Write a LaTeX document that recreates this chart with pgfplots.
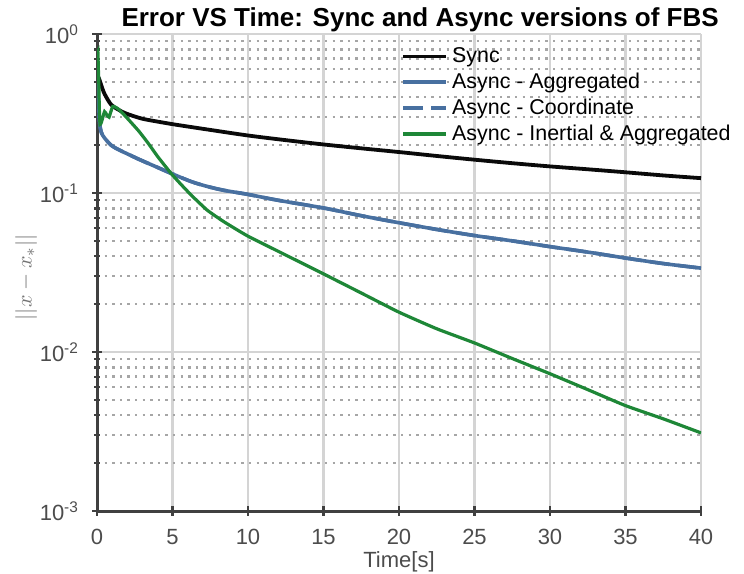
\documentclass[border=0pt]{standalone}
\usepackage{fontspec}
\setmainfont{Liberation Sans}
\usepackage{pgfplots}
\pgfplotsset{compat=1.18}

\definecolor{syncblack}{RGB}{10,10,10}
\definecolor{asyncblue}{RGB}{72,112,160}
\definecolor{inertgreen}{RGB}{30,135,55}
\definecolor{spine}{RGB}{64,64,64}

\begin{document}
\begin{tikzpicture}
\useasboundingbox (-48.5pt,-31pt) rectangle (323.5pt,255.5pt);
\begin{axis}[
    scale only axis,
    width=302pt, height=238.5pt,
    xmin=0, xmax=40,
    ymin=1e-3, ymax=1,
    ymode=log,
    xtick={0,5,...,40},
    ytick={0.001,0.01,0.1,1},
    yticklabels={10\textsuperscript{-3},10\textsuperscript{-2},10\textsuperscript{-1},10\textsuperscript{0}},
    /pgf/number format/assume math mode=true,
    ticklabel style={font=\fontsize{11}{13}\selectfont, text=black!70},
    xticklabel style={yshift=-3pt},
    yticklabel style={xshift=-3pt},
    axis x line*=bottom, axis y line*=left,
    axis line style={spine, line width=1.5pt, -},
    tick style={spine, line width=1.1pt},
    tick align=center,
    major tick length=5pt, minor tick length=3pt,
    grid=both,
    major grid style={black!17, line width=1.1pt},
    minor grid style={black!35, line width=1.2pt, dash pattern=on 1.2pt off 2.6pt},
    title={Error VS Time: Sync and Async versions of FBS},
    title style={font=\bfseries\fontsize{13}{15}\selectfont, at={(axis description cs:0.535,1)}, anchor=base, yshift=-2pt},
    xlabel={Time[s]},
    xlabel style={font=\fontsize{11}{13}\selectfont, text=black!70, at={(axis description cs:0.5,-0.106)}, anchor=center},
    ylabel={$||x-x_*||$},
    ylabel style={font=\fontsize{11}{13}\selectfont, text=black!55, at={(axis description cs:-0.1175,0.49)}, anchor=center},
    legend style={draw=none, fill=none, at={(axis description cs:0.5,0.985)}, anchor=north west,
        font=\fontsize{10.7}{13}\selectfont, row sep=-0.3pt, inner sep=1pt},
    legend cell align=left,
    legend image code/.code={\draw[#1] (0pt,0pt) -- (21.5pt,0pt);},
]
\addplot[syncblack, line width=1.9pt, smooth] coordinates {
(0,0.56)(0.15,0.52)(0.27,0.48)(0.5,0.42)(0.93,0.36)(1.4,0.335)(1.8,0.32)
(2.4,0.305)(2.9,0.295)(3.4,0.288)(4.9,0.272)(6,0.262)(7.3,0.251)(10,0.230)(12.5,0.215)
(15,0.202)(17.5,0.191)(20,0.181)(22.5,0.171)(25,0.162)(27.5,0.154)(30,0.147)
(32.5,0.141)(35,0.135)(37.5,0.129)(40,0.124)
};
\addlegendentry{Sync}
\addplot[asyncblue, line width=1.8pt, smooth] coordinates {
(0,0.7)(0.15,0.3)(0.27,0.243)(0.5,0.222)(0.93,0.200)(1.4,0.188)(2.25,0.172)
(2.9,0.161)(4,0.145)(4.9,0.133)(6.24,0.118)(7.3,0.110)(8.4,0.104)(10,0.098)
(12,0.090)(15,0.0805)(17.5,0.072)(20,0.065)(22.5,0.059)(25,0.054)(27.5,0.050)
(30,0.046)(32.5,0.0425)(35,0.039)(37.5,0.036)(40,0.0337)
};
\addlegendentry{Async - Aggregated}
\addplot[asyncblue, line width=1.8pt, smooth, dash pattern=on 10pt off 4pt] coordinates {
(0,0.7)(0.15,0.3)(0.27,0.243)(0.5,0.222)(0.93,0.200)(1.4,0.188)(2.25,0.172)
(2.9,0.161)(4,0.145)(4.9,0.133)(6.24,0.118)(7.3,0.110)(8.4,0.104)(10,0.098)
(12,0.090)(15,0.0805)(17.5,0.072)(20,0.065)(22.5,0.059)(25,0.054)(27.5,0.050)
(30,0.046)(32.5,0.0425)(35,0.039)(37.5,0.036)(40,0.0337)
};
\addlegendentry{Async - Coordinate}
\addplot[inertgreen, line width=1.6pt, smooth, tension=0.3] coordinates {
(0,0.80)(0.03,0.75)(0.06,0.77)(0.09,0.60)(0.12,0.50)(0.15,0.35)(0.2,0.27)
(0.3,0.28)(0.5,0.325)(0.65,0.31)(0.8,0.30)(1.04,0.35)(1.37,0.34)(1.8,0.31)
(2.3,0.275)(2.8,0.243)(3.4,0.205)(4.03,0.169)(4.9,0.133)(5.5,0.115)(6.24,0.097)
(7.3,0.078)(8.4,0.066)(10,0.0535)(12,0.043)(15,0.031)(17.5,0.0235)(20,0.0178)
(22.5,0.0140)(25,0.0114)(27.5,0.0091)(30,0.0073)(32.5,0.0058)(35,0.0046)
(37.5,0.0038)(40,0.0031)
};
\addlegendentry{Async - Inertial \& Aggregated}
\end{axis}
\end{tikzpicture}
\end{document}
